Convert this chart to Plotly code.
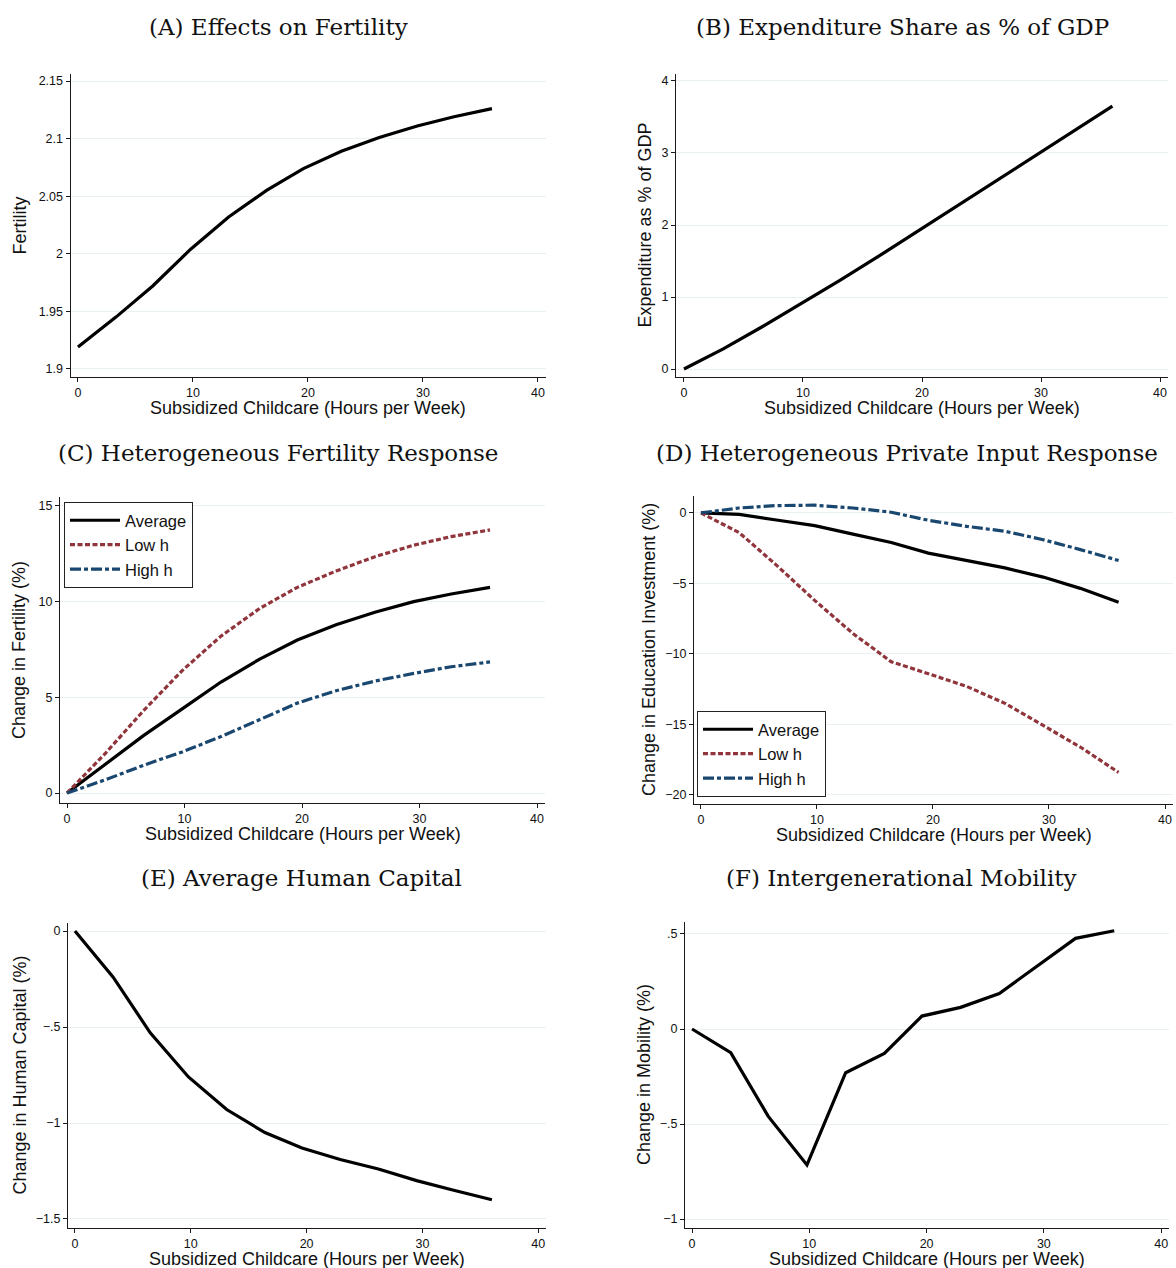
import plotly.graph_objects as go

# the page's default body margin is removed (post_script below), so page px == figure px
OFF = 0
W, H = 1176 - OFF, 1268 - OFF

# ---------------- data ----------------
hours = [0, 3.3, 6.5, 9.8, 13.1, 16.4, 19.6, 22.9, 26.2, 29.5, 32.7, 36]

fertility = [1.919, 1.945, 1.972, 2.004, 2.032, 2.055, 2.074, 2.089, 2.101, 2.111, 2.119, 2.126]
expenditure = [0, 0.28, 0.58, 0.90, 1.23, 1.57, 1.91, 2.26, 2.61, 2.96, 3.30, 3.65]

fert_avg = [0, 1.5, 3.0, 4.4, 5.8, 7.0, 8.0, 8.8, 9.45, 10.0, 10.4, 10.75]
fert_low = [0, 2.1, 4.3, 6.4, 8.2, 9.65, 10.75, 11.6, 12.35, 12.95, 13.4, 13.75]
fert_high = [0, 0.7, 1.45, 2.15, 2.95, 3.85, 4.7, 5.35, 5.85, 6.25, 6.6, 6.85]

edu_avg = [0, -0.1, -0.5, -0.9, -1.5, -2.1, -2.85, -3.4, -3.9, -4.55, -5.35, -6.33]
edu_low = [0, -1.4, -3.7, -6.2, -8.55, -10.55, -11.4, -12.3, -13.5, -15.05, -16.6, -18.4]
edu_high = [0, 0.35, 0.52, 0.55, 0.35, 0.05, -0.52, -0.95, -1.3, -1.9, -2.6, -3.37]

human_capital = [0, -0.24, -0.53, -0.76, -0.93, -1.05, -1.13, -1.19, -1.24, -1.30, -1.35, -1.40]
mobility = [0, -0.124, -0.46, -0.715, -0.23, -0.128, 0.068, 0.114, 0.187, 0.336, 0.477, 0.517]

x_ticks = [0, 10, 20, 30, 40]
x_ticktext = ["0", "10", "20", "30", "40"]

a_yticks = [1.9, 1.95, 2, 2.05, 2.1, 2.15]
a_yticktext = ["1.9", "1.95", "2", "2.05", "2.1", "2.15"]
b_yticks = [0, 1, 2, 3, 4]
b_yticktext = ["0", "1", "2", "3", "4"]
c_yticks = [0, 5, 10, 15]
c_yticktext = ["0", "5", "10", "15"]
d_yticks = [0, -5, -10, -15, -20]
d_yticktext = ["0", "\u22125", "\u221210", "\u221215", "\u221220"]
e_yticks = [0, -0.5, -1, -1.5]
e_yticktext = ["0", "\u2212.5", "\u22121", "\u22121.5"]
f_yticks = [-1, -0.5, 0, 0.5]
f_yticktext = ["\u22121", "\u2212.5", "0", ".5"]

titles = ["(A) Effects on Fertility", "(B) Expenditure Share as % of GDP",
          "(C) Heterogeneous Fertility Response", "(D) Heterogeneous Private Input Response",
          "(E) Average Human Capital", "(F) Intergenerational Mobility"]
y_titles = ["Fertility", "Expenditure as % of GDP", "Change in Fertility (%)",
            "Change in Education Investment (%)", "Change in Human Capital (%)",
            "Change in Mobility (%)"]
x_title = "Subsidized Childcare (Hours per Week)"
series_names = ["Average", "Low h", "High h"]

# ---------------- styling / layout geometry ----------------
BLACK = "#000000"
MAROON = "#90353B"
NAVY = "#1A476F"
GRID = "#E8F0F2"
AXIS = "#1a1a1a"
TXT = "#111111"
SANS = "Liberation Sans, Arial, sans-serif"
SERIF = "DejaVu Serif, serif"


def px(xp):
    return (xp - OFF) / W


def py(yp):
    return 1 - (yp - OFF) / H


# panel pixel boxes (page coords): (left, right, top, bottom), x range, y range
panels = [
    dict(box=(70.5, 546, 74, 377), xr=[-0.65, 40.7], yr=[1.893, 2.1561], yt=(a_yticks, a_yticktext)),
    dict(box=(676, 1168, 74, 377), xr=[-0.67, 40.67], yr=[-0.111, 4.097], yt=(b_yticks, b_yticktext)),
    dict(box=(60, 545, 497, 803), xr=[-0.6, 40.68], yr=[-0.52, 15.47], yt=(c_yticks, c_yticktext)),
    dict(box=(694, 1173, 496, 804), xr=[-0.6, 40.69], yr=[-20.64, 1.2], yt=(d_yticks, d_yticktext)),
    dict(box=(68, 546, 923, 1228), xr=[-0.6, 40.67], yr=[-1.547, 0.042], yt=(e_yticks, e_yticktext)),
    dict(box=(685, 1169, 922, 1228), xr=[-0.6, 40.67], yr=[-1.047, 0.563], yt=(f_yticks, f_yticktext)),
]
title_pos = [(278, 27), (902, 27), (278, 453), (907, 453), (301, 878), (901, 878)]
ytitle_x = [19, 644, 19, 649, 19, 644]
xtitle_dy = 31

fig = go.Figure()
layout = dict(width=W, height=H, autosize=False, margin=dict(l=0, r=0, t=0, b=0, pad=0),
              paper_bgcolor="white", plot_bgcolor="white",
              font=dict(family=SANS, color=TXT), annotations=[])

tickfont = dict(size=12.5, family=SANS, color=TXT)
for i, p in enumerate(panels):
    n = "" if i == 0 else str(i + 1)
    l, r, t, b = p["box"]
    layout["xaxis" + n] = dict(
        domain=[px(l), px(r)], range=p["xr"], anchor="y" + n,
        tickvals=x_ticks, ticktext=x_ticktext, ticks="outside", ticklen=4,
        tickcolor=AXIS, showline=True, linecolor=AXIS, linewidth=1,
        showgrid=False, zeroline=False, tickfont=tickfont, fixedrange=True,
        ticklabeloverflow="allow")
    layout["yaxis" + n] = dict(
        domain=[py(b), py(t)], range=p["yr"], anchor="x" + n,
        tickvals=p["yt"][0], ticktext=p["yt"][1], ticks="outside", ticklen=4,
        tickcolor=AXIS, showline=True, linecolor=AXIS, linewidth=1,
        showgrid=True, gridcolor=GRID, gridwidth=1, zeroline=False,
        tickfont=tickfont, fixedrange=True, ticklabeloverflow="allow")
    tx, ty = title_pos[i]
    layout["annotations"].append(dict(
        text=titles[i], x=px(tx), y=py(ty), xref="paper", yref="paper",
        xanchor="center", yanchor="middle", showarrow=False,
        font=dict(family=SERIF, size=23, color=TXT)))
    layout["annotations"].append(dict(
        text=x_title, x=px((l + r) / 2), y=py(b + xtitle_dy), xref="paper", yref="paper",
        xanchor="center", yanchor="middle", showarrow=False,
        font=dict(family=SANS, size=18, color=TXT)))
    layout["annotations"].append(dict(
        text=y_titles[i], x=px(ytitle_x[i]), y=py((t + b) / 2), xref="paper", yref="paper",
        xanchor="center", yanchor="middle", showarrow=False, textangle=-90,
        font=dict(family=SANS, size=18, color=TXT)))

solid = dict(color=BLACK, width=3.2)
low_line = dict(color=MAROON, width=3.2, dash="5px,2.5px")
high_line = dict(color=NAVY, width=3.2, dash="11px,3px,4px,3px")

fig.add_trace(go.Scatter(x=hours, y=fertility, mode="lines", line=solid, showlegend=False,
                         xaxis="x", yaxis="y"))
fig.add_trace(go.Scatter(x=hours, y=expenditure, mode="lines", line=solid, showlegend=False,
                         xaxis="x2", yaxis="y2"))

for ys, nm, ln in zip([fert_avg, fert_low, fert_high], series_names, [solid, low_line, high_line]):
    fig.add_trace(go.Scatter(x=hours, y=ys, mode="lines", line=ln, name=nm,
                             xaxis="x3", yaxis="y3", legend="legend"))
for ys, nm, ln in zip([edu_avg, edu_low, edu_high], series_names, [solid, low_line, high_line]):
    fig.add_trace(go.Scatter(x=hours, y=ys, mode="lines", line=ln, name=nm,
                             xaxis="x4", yaxis="y4", legend="legend2"))

fig.add_trace(go.Scatter(x=hours, y=human_capital, mode="lines", line=solid, showlegend=False,
                         xaxis="x5", yaxis="y5"))
fig.add_trace(go.Scatter(x=hours, y=mobility, mode="lines", line=solid, showlegend=False,
                         xaxis="x6", yaxis="y6"))

legend_style = dict(bgcolor="white", bordercolor="#222", borderwidth=1,
                    font=dict(family=SANS, size=16.5, color=TXT),
                    itemwidth=50, tracegroupgap=0, xanchor="left")
layout["legend"] = dict(x=px(64), y=py(502), yanchor="top", **legend_style)
layout["legend2"] = dict(x=px(697), y=py(797), yanchor="bottom", **legend_style)

fig.update_layout(**layout)
fig.write_html("out.html",
               config={"displayModeBar": False},
               post_script="document.body.style.margin='0';document.body.style.overflow='hidden';")
